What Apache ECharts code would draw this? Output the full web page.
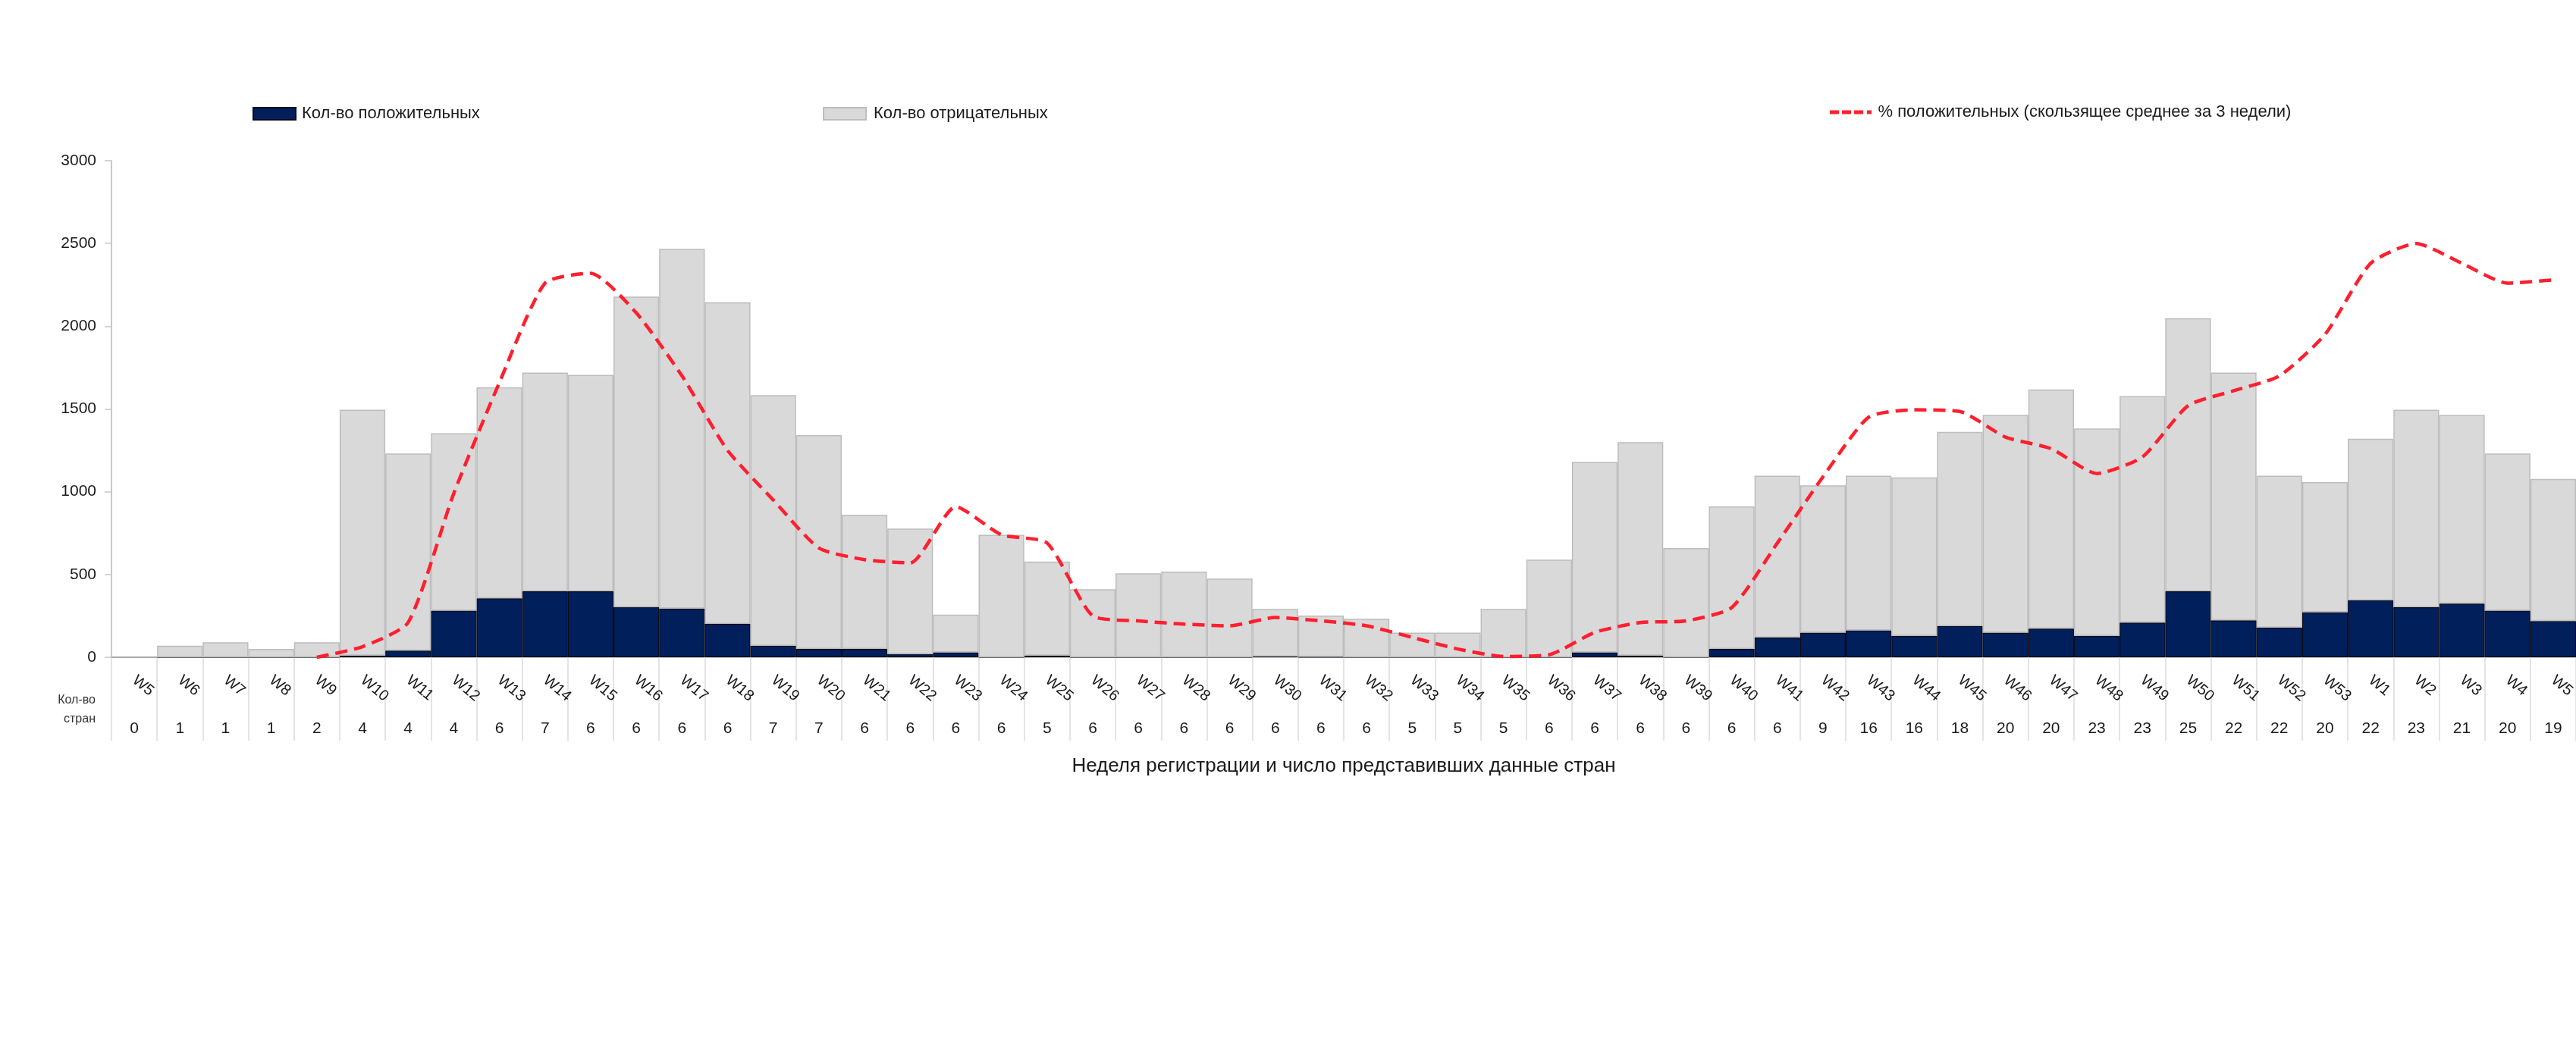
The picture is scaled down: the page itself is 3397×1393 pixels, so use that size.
<!DOCTYPE html>
<html>
<head>
<meta charset="utf-8">
<script src="https://cdn.jsdelivr.net/npm/echarts@6/dist/echarts.min.js"></script>
<style>
html,body{margin:0;padding:0;background:#fff;}
#c{width:3397px;height:1393px;}
</style>
</head>
<body>
<div id="c"></div>
<script>
const weeks = ['W5','W6','W7','W8','W9','W10','W11','W12','W13','W14','W15','W16','W17','W18','W19','W20','W21','W22','W23','W24','W25','W26','W27','W28','W29','W30','W31','W32','W33','W34','W35','W36','W37','W38','W39','W40','W41','W42','W43','W44','W45','W46','W47','W48','W49','W50','W51','W52','W53','W1','W2','W3','W4','W5'];
const countries = [0,1,1,1,2,4,4,4,6,7,6,6,6,6,7,7,6,6,6,6,5,6,6,6,6,6,6,6,5,5,5,6,6,6,6,6,6,9,16,16,18,20,20,23,23,25,22,22,20,22,23,21,20,19];
const positives = [0,0,0,0,0,10,40,282,356,398,398,304,294,201,70,50,50,20,30,0,10,0,0,0,0,5,2,0,0,0,0,0,30,10,0,50,119,149,163,129,189,149,173,129,209,398,223,179,272,344,302,324,282,219];
const negatives = [0,70,90,50,90,1485,1191,1072,1274,1322,1308,1875,2173,1944,1514,1292,811,757,228,740,568,411,507,517,475,287,250,233,149,149,292,590,1151,1290,660,862,978,889,934,958,1173,1316,1445,1253,1369,1650,1497,918,786,976,1193,1141,949,858];
const pctAvg = [null,null,null,null,0,0.64,2.1,9.9,16.6,22.6,23.2,20.8,17.0,12.5,9.5,6.6,5.9,5.7,9.1,7.4,6.9,2.5,2.2,2.0,1.9,2.4,2.2,1.9,1.2,0.5,0.05,0.15,1.5,2.1,2.2,3.0,6.9,10.9,14.5,14.95,14.85,13.3,12.6,11.1,12.1,15.2,16.1,17.0,19.5,23.8,25.0,23.8,22.6,22.8];
const yTicks = [0,500,1000,1500,2000,2500,3000];

const nPos = 'Кол-во положительных';
const nNeg = 'Кол-во отрицательных';
const nPct = '% положительных (скользящее среднее за 3 недели)';
const FONT = 'Liberation Sans';
const TXT = '#1a1a1a';

const chart = echarts.init(document.getElementById('c'), null, {renderer:'canvas'});
chart.setOption({
  animation:false,
  textStyle:{fontFamily:FONT},
  legend:[
    {left:333, top:139, padding:0, itemWidth:56, itemHeight:16, itemGap:0,
     textStyle:{fontSize:22, color:TXT, fontFamily:FONT, padding:[0,0,0,3]},
     data:[{name:nPos, icon:'rect'}]},
    {left:1085, top:139, padding:0, itemWidth:56, itemHeight:16, itemGap:0,
     textStyle:{fontSize:22, color:TXT, fontFamily:FONT, padding:[0,0,0,5]},
     data:[{name:nNeg, icon:'rect'}]},
    {left:2413, top:137, padding:0, itemWidth:58, itemHeight:5, itemGap:0,
     textStyle:{fontSize:22, color:TXT, fontFamily:FONT, padding:[0,0,0,2]},
     data:[{name:nPct, icon:'path://M0 0H12V5H0Z M16 0H28V5H16Z M32 0H44V5H32Z M49 0H55V5H49Z'}]}
  ],
  grid:{left:147, right:0, top:212, bottom:526, containLabel:false, outerBoundsMode:'none'},
  xAxis:[
    {type:'category', data:weeks, position:'bottom', boundaryGap:true,
     axisLine:{show:true, lineStyle:{color:'#c8c8c8', width:2}},
     axisTick:{show:true, length:110, interval:0, lineStyle:{color:'#dcdcdc', width:1.5}},
     axisLabel:{interval:0, rotate:-40, margin:28, fontSize:20, color:TXT, fontFamily:FONT},
     name:'Неделя регистрации и число представивших данные стран',
     nameLocation:'middle', nameGap:131,
     nameTextStyle:{fontSize:26, color:TXT, fontFamily:FONT},
     splitLine:{show:false}},
    {type:'category', data:weeks, position:'bottom', boundaryGap:true,
     axisLine:{show:false}, axisTick:{show:false},
     axisLabel:{interval:0, margin:84, fontSize:21, color:TXT, fontFamily:FONT,
       formatter:function(v, i){ return String(countries[i]); }},
     splitLine:{show:false}}
  ],
  yAxis:[
    {type:'value', min:yTicks[0], max:yTicks[yTicks.length-1], interval:500,
     axisLine:{show:true, lineStyle:{color:'#c8c8c8', width:2}},
     axisTick:{show:true, length:9, lineStyle:{color:'#c8c8c8', width:1.5}},
     axisLabel:{fontSize:21, color:TXT, margin:20, fontFamily:FONT,
       formatter:function(v){ return String(v); }},
     splitLine:{show:false}},
    {type:'value', min:0, max:30, show:false, splitLine:{show:false}}
  ],
  graphic:[
    {type:'text', x:126, y:936,
     style:{text:'Кол-во\nстран', fontSize:16, lineHeight:25, fill:'#333', align:'right', verticalAlign:'middle', fontFamily:FONT}}
  ],
  series:[
    {name:nPos, type:'bar', stack:'t', data:positives, barWidth:'100%', barCategoryGap:'0%',
     itemStyle:{color:'#001f5b', borderColor:'#0a0a1a', borderWidth:1.2}},
    {name:nNeg, type:'bar', stack:'t', data:negatives, barWidth:'100%', barCategoryGap:'0%',
     itemStyle:{color:'#d9d9d9', borderColor:'#bdbdbd', borderWidth:1.5}},
    {name:nPct, type:'line', yAxisIndex:1, data:pctAvg, smooth:0.2, symbol:'none', z:5,
     itemStyle:{color:'#ff1f2e'},
     lineStyle:{color:'#ff1f2e', width:4.5, type:[16,9]}}
  ]
});
</script>
</body>
</html>
